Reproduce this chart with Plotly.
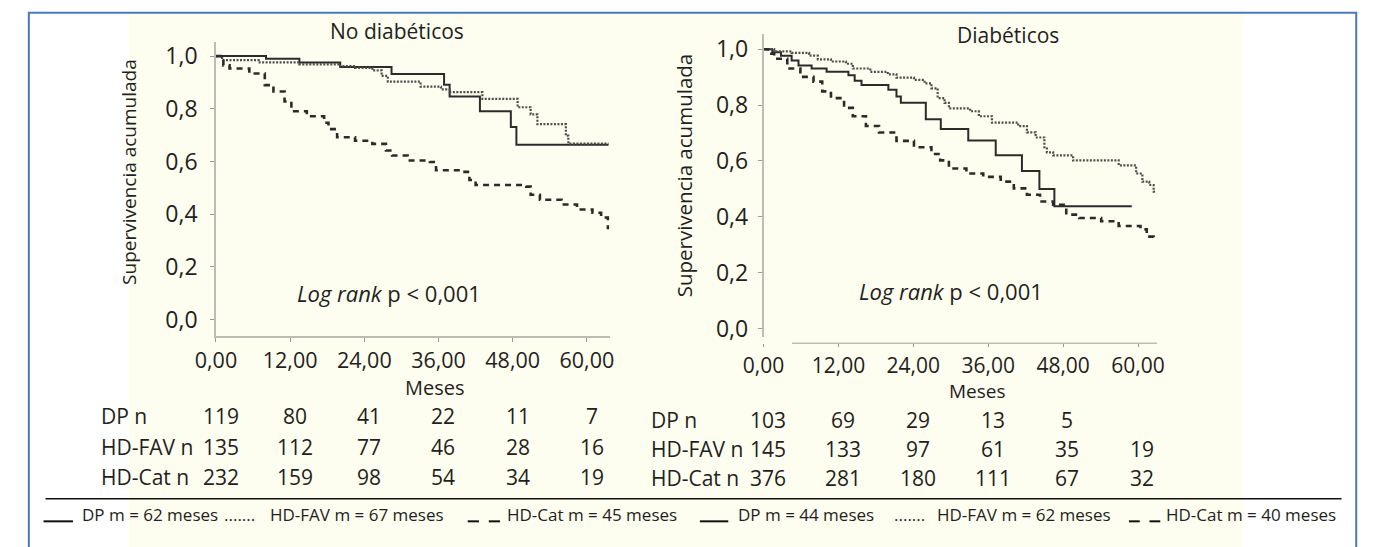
import plotly.graph_objects as go

W, H = 1374, 547
FONT = "Open Sans, Noto Sans, sans-serif"
TXT = "#231f20"

# ---------------- data: No diabéticos ----------------
nd_dp_t = [0, 8.1, 13.5, 20.1, 28.4, 36.9, 37.8, 42.7, 47.7, 48.6, 63.5]
nd_dp_s = [1.0, 0.990, 0.976, 0.959, 0.932, 0.891, 0.847, 0.791, 0.731, 0.664, 0.664]

nd_fav_t = [0, 1.0, 6.9, 13.5, 20.1, 22.5, 25.3, 26.8, 27.8, 33.1, 36.4, 37.8, 43.1,
            48.8, 50.9, 52.0, 56.6, 57.0, 63.5]
nd_fav_s = [1.0, 0.985, 0.976, 0.969, 0.962, 0.955, 0.946, 0.925, 0.903, 0.884, 0.874,
            0.863, 0.838, 0.806, 0.779, 0.742, 0.698, 0.668, 0.668]

nd_cat_t = [0, 1.2, 2.2, 5.4, 7.9, 9.3, 11.1, 12.2, 14.7, 17.5, 18.2, 19.6, 22.5, 25.3,
            27.5, 28.5, 31.0, 34.6, 35.6, 39.5, 41.0, 42.0, 50.2, 50.9, 52.4, 55.9,
            58.4, 60.9, 62.3, 63.4]
nd_cat_s = [1.0, 0.965, 0.953, 0.934, 0.890, 0.866, 0.828, 0.791, 0.772, 0.747, 0.723,
            0.692, 0.679, 0.667, 0.642, 0.623, 0.604, 0.598, 0.567, 0.561, 0.530, 0.511,
            0.505, 0.474, 0.455, 0.437, 0.418, 0.406, 0.388, 0.343]

# ---------------- data: Diabéticos ----------------
d_dp_t = [0, 1.4, 2.8, 4.5, 5.6, 7.7, 10.1, 13.6, 14.6, 15.7, 20.0, 21.3, 22.0, 26.0,
          28.4, 32.8, 37.2, 41.4, 44.2, 46.6, 59.0]
d_dp_s = [1.0, 0.989, 0.977, 0.960, 0.942, 0.931, 0.919, 0.907, 0.887, 0.872, 0.855,
          0.831, 0.808, 0.749, 0.714, 0.673, 0.620, 0.564, 0.500, 0.438, 0.438]

d_fav_t = [0, 1.7, 4.5, 7.3, 8.7, 10.8, 13.2, 14.3, 17.1, 19.9, 21.3, 24.1, 25.8, 26.9,
           27.9, 29.0, 29.7, 33.1, 34.5, 36.6, 40.8, 42.2, 43.6, 45.0, 45.4, 46.4,
           49.6, 56.9, 59.7, 60.7, 61.8, 62.5, 62.8]
d_fav_s = [1.0, 0.992, 0.987, 0.977, 0.964, 0.956, 0.948, 0.931, 0.919, 0.910, 0.898,
           0.890, 0.878, 0.860, 0.825, 0.808, 0.788, 0.778, 0.760, 0.737, 0.725, 0.702,
           0.684, 0.649, 0.631, 0.620, 0.602, 0.584, 0.555, 0.526, 0.514, 0.490, 0.490]

d_cat_t = [0, 0.7, 1.7, 3.8, 5.9, 8.0, 9.4, 10.8, 12.9, 14.3, 16.4, 18.5, 21.3, 24.1,
           26.9, 28.3, 29.7, 32.5, 35.2, 38.0, 40.1, 42.2, 44.3, 46.4, 48.5, 50.6,
           54.1, 56.9, 60.4, 61.4, 62.5]
d_cat_s = [1.0, 0.984, 0.966, 0.931, 0.901, 0.884, 0.849, 0.825, 0.790, 0.760, 0.725,
           0.702, 0.672, 0.649, 0.625, 0.602, 0.573, 0.555, 0.543, 0.526, 0.502, 0.479,
           0.455, 0.443, 0.408, 0.396, 0.384, 0.367, 0.355, 0.329, 0.325]

# ---------------- tables / labels ----------------
x_ticks = [0, 12, 24, 36, 48, 60]
y_ticks = [0, 0.2, 0.4, 0.6, 0.8, 1.0]
row_labels = ["DP n", "HD-FAV n", "HD-Cat n"]
nd_counts = [[119, 80, 41, 22, 11, 7],
             [135, 112, 77, 46, 28, 16],
             [232, 159, 98, 54, 34, 19]]
d_counts = [[103, 69, 29, 13, 5, None],
            [145, 133, 97, 61, 35, 19],
            [376, 281, 180, 111, 67, 32]]
nd_legend = ["DP m = 62 meses", "HD-FAV m = 67 meses", "HD-Cat m = 45 meses"]
d_legend = ["DP m = 44 meses", "HD-FAV m = 62 meses", "HD-Cat m = 40 meses"]


def px_x(p):
    return p / W


def px_y(p):
    return 1 - p / H


fig = go.Figure()

styles = [dict(color="#2b2b2b", width=2, dash="solid"),
          dict(color="#4d4d4d", width=2.2, dash="2px,1.5px"),
          dict(color="#2b2b2b", width=2.6, dash="6px,5px")]

for (t, s), st in zip([(nd_dp_t, nd_dp_s), (nd_fav_t, nd_fav_s), (nd_cat_t, nd_cat_s)], styles):
    fig.add_trace(go.Scatter(x=t, y=s, mode="lines", line=dict(shape="hv", **st),
                             xaxis="x", yaxis="y", showlegend=False, hoverinfo="skip"))
for (t, s), st in zip([(d_dp_t, d_dp_s), (d_fav_t, d_fav_s), (d_cat_t, d_cat_s)], styles):
    fig.add_trace(go.Scatter(x=t, y=s, mode="lines", line=dict(shape="hv", **st),
                             xaxis="x2", yaxis="y2", showlegend=False, hoverinfo="skip"))

AX = "#bdbdb5"
common_x = dict(tickvals=x_ticks, tickformat=".2f", ticks="outside", tickcolor="#999",
                showgrid=False, zeroline=False, ticklabelstandoff=0)
common_y = dict(tickvals=y_ticks, tickformat=".1f", ticks="outside", ticklen=4, tickcolor="#999",
                showgrid=False, zeroline=False, tickfont=dict(family=FONT, size=23, color=TXT),
                showline=True, linecolor=AX, linewidth=1.5)

fig.update_layout(
    width=W, height=H, margin=dict(l=0, r=0, t=0, b=0),
    paper_bgcolor="white", plot_bgcolor="rgba(0,0,0,0)",
    separators=",.", showlegend=False,
    xaxis=dict(domain=[px_x(199), px_x(601)], range=[0, 63.7], anchor="y", ticklen=4,
               tickfont=dict(family=FONT, size=21.5, color=TXT),
               showline=True, linecolor=AX, linewidth=1.5, **common_x),
    yaxis=dict(domain=[px_y(339), px_y(40)], range=[(322 - 339) / 268, (322 - 40) / 268],
               anchor="x", ticklabelstandoff=8, **common_y),
    xaxis2=dict(domain=[px_x(758), px_x(1160)], range=[0, 63.1], anchor="free",
                position=px_y(346), showline=False, ticklen=3,
                tickfont=dict(family=FONT, size=21, color=TXT), **common_x),
    yaxis2=dict(domain=[px_y(340), px_y(32)], range=[(331 - 340) / 284, (331 - 32) / 284],
                anchor="x2", ticklabelstandoff=5, **common_y),
)

shapes = []
# yellow background
shapes.append(dict(type="rect", xref="paper", yref="paper", x0=px_x(110), x1=px_x(1248),
                   y0=-0.05, y1=px_y(11), fillcolor="#fdfdf0", line=dict(width=0), layer="below"))
# blue frame
shapes.append(dict(type="rect", xref="paper", yref="paper", x0=px_x(8), x1=px_x(1363),
                   y0=-0.05, y1=px_y(10), fillcolor="rgba(0,0,0,0)",
                   line=dict(color="#4a76c4", width=2), layer="above"))
# right x axis line
shapes.append(dict(type="line", xref="x2", yref="paper", x0=(787 - 758) / 6.37, x1=63.1,
                   y0=px_y(346), y1=px_y(346), line=dict(color=AX, width=1.5)))
# separator line above the legend
shapes.append(dict(type="line", xref="paper", yref="paper", x0=px_x(25), x1=px_x(1348),
                   y0=px_y(504), y1=px_y(504), line=dict(color="#111", width=1.5)))

ann = []


def text(x, y, s, size, xanchor="center", xref="paper", yref="paper", angle=0, **kw):
    ann.append(dict(x=x, y=y, xref=xref, yref=yref, text=s, showarrow=False, xanchor=xanchor,
                    yanchor="middle", textangle=angle,
                    font=dict(family=FONT, size=size, color=TXT), **kw))


text(px_x(384), px_y(28), "No diabéticos", 21)
text(px_x(1008), px_y(33), "Diabéticos", 21)
text(px_x(110), px_y(172), "Supervivencia acumulada", 19, angle=-90)
text(px_x(677), px_y(175), "Supervivencia acumulada", 20.5, angle=-90)
text(px_x(280), px_y(295), "<i>Log rank</i> p < 0,001", 22, xanchor="left")
text(px_x(853), px_y(293), "<i>Log rank</i> p < 0,001", 22, xanchor="left")
text(px_x(423), px_y(391), "Meses", 20)
text(px_x(976), px_y(394), "Meses", 19)

rows_left = [420, 451, 482]
rows_right = [424, 453, 483]
for i, lab in enumerate(row_labels):
    text(px_x(80), px_y(rows_left[i]), lab, 21, xanchor="left")
    text(px_x(641), px_y(rows_right[i]), lab, 21, xanchor="left")
    for j, v in enumerate(nd_counts[i]):
        if v is not None:
            text(x_ticks[j] + 0.8, px_y(rows_left[i]), str(v), 21, xref="x")
    for j, v in enumerate(d_counts[i]):
        if v is not None:
            text(x_ticks[j] + 0.7, px_y(rows_right[i]), str(v), 21, xref="x2")

# bottom legend (line samples + text)
leg_y = 520
mark_y = 527


def sample(x0, x1, kind):
    if kind == "solid":
        shapes.append(dict(type="line", xref="paper", yref="paper", x0=px_x(x0), x1=px_x(x1),
                           y0=px_y(mark_y), y1=px_y(mark_y), line=dict(color="#111", width=2)))
    elif kind == "dash":
        mid = (x0 + x1) / 2
        for a, b in [(x0, mid - 5), (mid + 5, x1)]:
            shapes.append(dict(type="line", xref="paper", yref="paper", x0=px_x(a), x1=px_x(b),
                               y0=px_y(mark_y), y1=px_y(mark_y), line=dict(color="#111", width=2)))
    else:
        text(px_x(x0), px_y(leg_y), ".......", 17, xanchor="left")


for items in [[(23, 53, "solid", 60, nd_legend[0]), (205, 245, "dot", 252, nd_legend[1]),
               (456, 489, "dash", 494, nd_legend[2])],
              [(693, 722, "solid", 730, d_legend[0]), (889, 922, "dot", 933, d_legend[1]),
               (1131, 1163, "dash", 1167, d_legend[2])]]:
    for x0, x1, kind, tx, label in items:
        sample(x0, x1, kind)
        text(px_x(tx), px_y(leg_y), label, 17, xanchor="left")

fig.update_layout(shapes=shapes, annotations=ann)
fig.write_html("out.html", config={"displayModeBar": False},
               post_script="document.body.style.margin='0px';")
